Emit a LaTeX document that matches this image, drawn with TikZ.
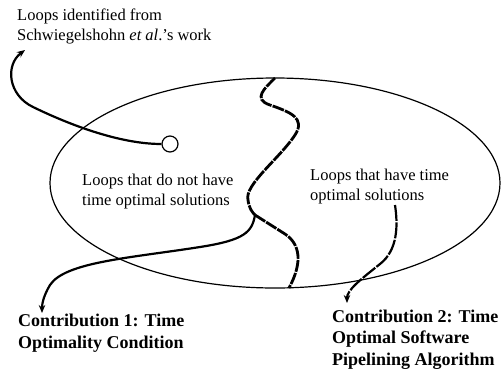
\documentclass[tikz,border=0pt]{standalone}
\usepackage{fontspec}
\setmainfont{Liberation Serif}
\usetikzlibrary{arrows.meta}
\begin{document}
\begin{tikzpicture}[x=1pt,y=-1pt,
  lbl/.style={anchor=base west,inner sep=0pt,align=left,font=\fontsize{16.5}{19.5}\selectfont},
  blbl/.style={anchor=base west,inner sep=0pt,align=left,font=\fontsize{18}{21.5}\selectfont\bfseries},
  conn/.style={line width=2.2pt,-{Stealth[length=8pt,width=6.5pt]}},
  divider/.style={line width=2.8pt,dash pattern=on 12pt off 1.2pt},
]
\useasboundingbox (0,0) rectangle (501,373);
% main set
\draw[line width=1.2pt] (275,183) ellipse [x radius=225, y radius=105];
% texts (anchored at the baseline of their last line)
\node[lbl] (src) at (17,40) {Loops identified from\\Schwiegelshohn \textit{et al}.'s work};
\node[lbl] (notopt) at (82,205) {Loops that do not have\\time optimal solutions};
\node[lbl] (opt) at (310,200) {Loops that have time\\optimal solutions};
\node[blbl] (c1) at (18,348) {Contribution 1: Time\\Optimality Condition};
\node[blbl] (c2) at (332,365) {Contribution 2: Time\\Optimal Software\\Pipelining Algorithm};
% small circle
\node[draw,circle,line width=1.2pt,minimum size=16pt,inner sep=0pt] (dot) at (170,144) {};
% coordinates
\coordinate (T) at (275,78);
\coordinate (J) at (255,215);
\coordinate (B) at (289,288);
\coordinate (a1) at (25,50);
\coordinate (a2) at (42,313);
\coordinate (a3s) at (395,205);
\coordinate (a3) at (347,303);
% dividing curve
\draw[divider] (T) .. controls (265,88) and (252,99) .. (270,105)
  .. controls (290,112) and (306,118) .. (295,135)
  .. controls (280,158) and (244,185) .. (248,200)
  .. controls (249,208) and (252,212) .. (J);
\draw[divider] (J) -- (285,234) .. controls (300,244) and (303,262) .. (B);
% arrows
\draw[conn] (dot.west) .. controls (120,144) and (70,125) .. (33,107)
  .. controls (8,95) and (5,65) .. (a1);
\draw[conn] (J) .. controls (252,232) and (245,240) .. (200,247)
  .. controls (130,258) and (65,262) .. (50,285)
  .. controls (44,295) and (42,303) .. (a2);
\draw[conn,dash pattern=on 16pt off 1.5pt] (a3s) .. controls (398,225) and (398,250) .. (380,264)
  .. controls (360,280) and (347,290) .. (a3);
\end{tikzpicture}
\end{document}
